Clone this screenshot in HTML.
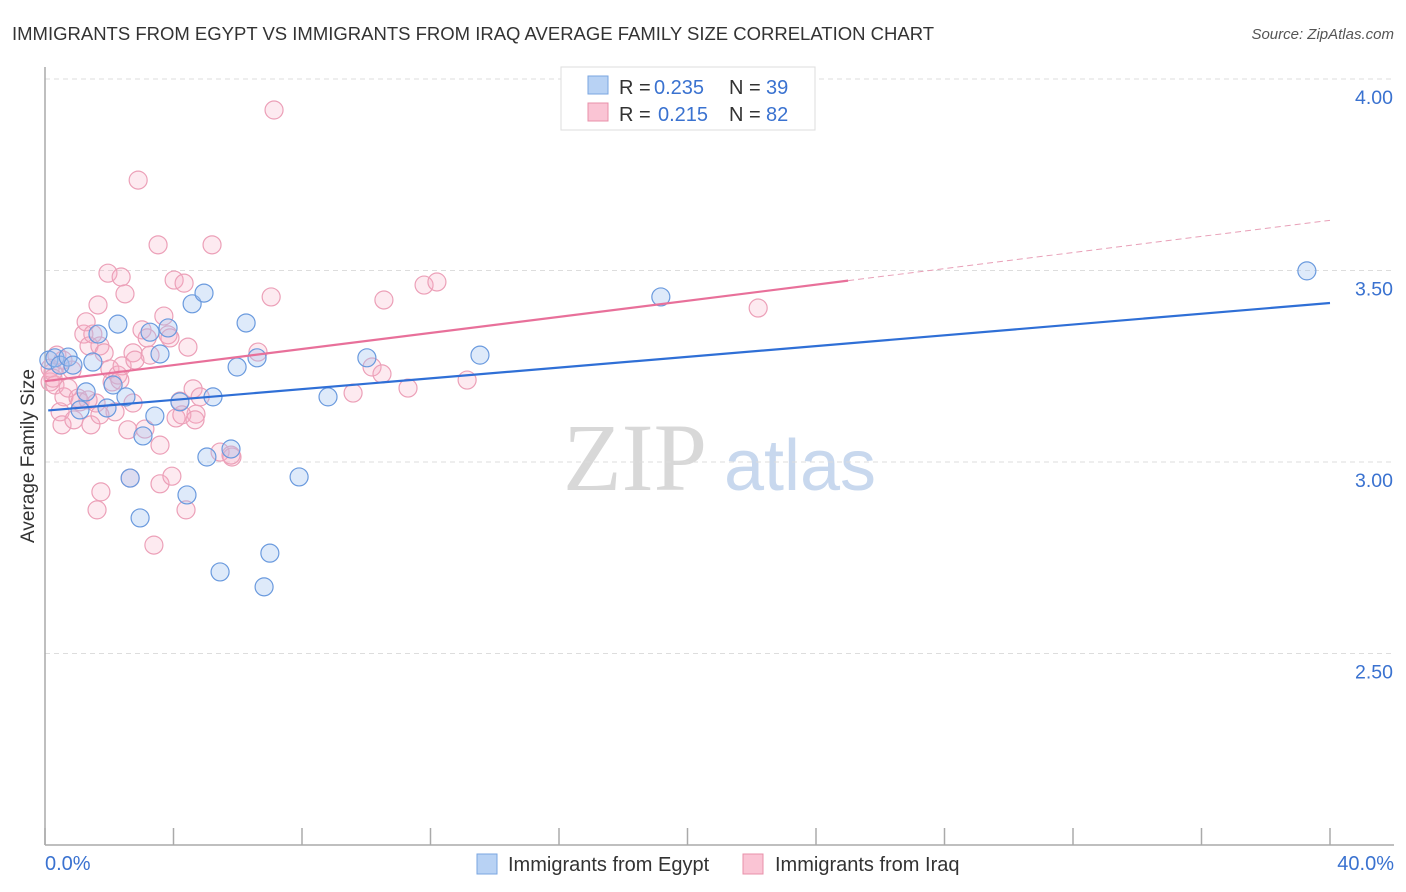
<!DOCTYPE html>
<html><head><meta charset="utf-8"><style>
body{margin:0;background:#fff;font-family:"Liberation Sans",sans-serif;}
svg{display:block}
</style></head><body>
<svg id="chart" width="1406" height="892" viewBox="0 0 1406 892" xmlns="http://www.w3.org/2000/svg">
<text x="12" y="40" font-size="18.5" fill="#333">IMMIGRANTS FROM EGYPT VS IMMIGRANTS FROM IRAQ AVERAGE FAMILY SIZE CORRELATION CHART</text>
<text x="1394" y="39" font-size="15" fill="#555" font-style="italic" text-anchor="end">Source: ZipAtlas.com</text>
<g>
<text x="635" y="490" font-size="96" fill="#d8d8d8" text-anchor="middle" font-family="Liberation Serif,serif">ZIP</text>
<text x="800" y="490" font-size="72" fill="#c8d8ee" text-anchor="middle">atlas</text>
</g>
<g id="grid"></g>
<g id="axes"></g>
<g id="pts"></g>
<g id="trends"></g>
<g>
<rect x="561" y="67" width="254" height="63" fill="#fff" stroke="#ddd"/>
<rect x="588" y="76" width="20" height="18" fill="#b8d2f4" stroke="#7aa6e0"/>
<g font-size="20">
<text x="619" y="94" fill="#333">R =</text><text x="654" y="94" fill="#3a72d0">0.235</text><text x="729" y="94" fill="#333">N =</text><text x="766" y="94" fill="#3a72d0">39</text>
</g>
<rect x="588" y="103" width="20" height="18" fill="#fac4d4" stroke="#e890aa"/>
<g font-size="20">
<text x="619" y="121" fill="#333">R =</text><text x="658" y="121" fill="#3a72d0">0.215</text><text x="729" y="121" fill="#333">N =</text><text x="766" y="121" fill="#3a72d0">82</text>
</g>
</g>
<text x="34" y="456" font-size="19" fill="#333" text-anchor="middle" transform="rotate(-90 34 456)">Average Family Size</text>
<text x="45" y="870" font-size="20" fill="#3a72d0">0.0%</text>
<text x="1394" y="870" font-size="20" fill="#3a72d0" text-anchor="end">40.0%</text>
<g>
<rect x="477" y="854" width="20" height="20" fill="#b8d2f4" stroke="#7aa6e0"/>
<text x="508" y="871" font-size="20" fill="#333">Immigrants from Egypt</text>
<rect x="743" y="854" width="20" height="20" fill="#fac4d4" stroke="#e890aa"/>
<text x="775" y="871" font-size="20" fill="#333">Immigrants from Iraq</text>
</g>
</svg>
<script>
const yTicks=[2.5,3.0,3.5,4.0];
const yTickLabels=["2.50","3.00","3.50","4.00"];
const xTicks=[0,4,8,12,16,20,24,28,32,36,40];
const egyptX=[0.12,0.31,0.47,0.72,0.87,1.09,1.28,1.49,1.65,1.93,2.12,2.27,2.52,2.65,2.96,3.05,3.27,3.42,3.58,3.83,4.20,4.42,4.58,4.95,5.04,5.23,5.45,5.79,5.98,6.26,6.60,6.82,7.00,7.91,8.81,10.02,13.54,19.17,39.28];
const egyptY=[3.266,3.272,3.253,3.274,3.253,3.136,3.183,3.261,3.334,3.141,3.201,3.360,3.170,2.958,2.854,3.068,3.339,3.120,3.282,3.350,3.157,2.914,3.413,3.441,3.013,3.170,2.713,3.034,3.248,3.363,3.272,2.674,2.762,2.961,3.170,3.272,3.279,3.431,3.499];
const iraqX=[0.16,0.25,0.31,0.37,0.47,0.53,0.59,0.72,0.84,0.90,1.03,1.09,1.21,1.28,1.37,1.43,1.49,1.59,1.65,1.71,1.84,1.96,2.02,2.09,2.18,2.27,2.37,2.40,2.49,2.58,2.65,2.74,2.74,2.90,3.02,3.11,3.18,3.27,3.39,3.52,3.58,3.58,3.70,3.83,3.95,4.02,4.08,4.20,4.33,4.39,4.45,4.61,4.70,4.83,5.20,5.45,5.82,6.63,7.04,7.13,9.59,10.18,10.49,10.55,11.30,11.80,12.20,13.14,22.20,1.62,1.74,0.16,0.25,0.56,1.34,1.71,2.33,2.80,3.89,4.26,4.67,5.79];
const iraqY=[3.209,3.235,3.201,3.279,3.131,3.097,3.170,3.193,3.240,3.110,3.167,3.157,3.334,3.366,3.303,3.097,3.334,3.154,3.410,3.303,3.285,3.493,3.243,3.209,3.131,3.227,3.483,3.251,3.439,3.084,2.958,3.285,3.154,3.736,3.345,3.086,3.324,3.279,2.783,3.567,3.044,2.943,3.381,3.332,2.963,3.475,3.115,3.159,3.467,2.875,3.300,3.191,3.125,3.170,3.567,3.026,3.013,3.287,3.431,3.919,3.180,3.248,3.230,3.423,3.193,3.462,3.470,3.214,3.402,2.875,2.922,3.245,3.219,3.266,3.162,3.123,3.214,3.266,3.324,3.123,3.110,3.018];
const egyptTrend=[3.134,0.00703];
const iraqTrend=[3.211,0.0105];
const NS="http://www.w3.org/2000/svg";
const sx=v=>45+v/40*1285;
const sy=v=>79+(4-v)*383;
function mk(tag,attrs,parent){const e=document.createElementNS(NS,tag);for(const k in attrs)e.setAttribute(k,attrs[k]);parent.appendChild(e);return e;}
const grid=document.getElementById('grid'),axes=document.getElementById('axes'),pts=document.getElementById('pts'),tr=document.getElementById('trends');
yTicks.forEach((t,i)=>{
 const l=mk('line',{x1:45,x2:1394,y1:sy(t),y2:sy(t),stroke:'#ddd','stroke-dasharray':'5,4'},grid);
 
 
 const tx=mk('text',{x:1393,y:sy(t)+25,'font-size':19.5,fill:'#3a72d0','text-anchor':'end'},axes);
 tx.textContent=yTickLabels[i];
 
 
});
const ya=mk('line',{x1:45,x2:45,y1:67,y2:845,stroke:'#aaa','stroke-width':1.5},axes);


const xa=mk('line',{x1:45,x2:1394,y1:845,y2:845,stroke:'#aaa','stroke-width':1.5},axes);


xTicks.forEach(t=>{
 const l=mk('line',{x1:sx(t),x2:sx(t),y1:828,y2:845,stroke:'#aaa','stroke-width':1.5},axes);
 
 
});
iraqX.forEach((x,i)=>{
 const c=mk('circle',{cx:sx(x),cy:sy(iraqY[i]),r:9,fill:'rgba(248,170,195,0.25)',stroke:'#eca0b8','stroke-width':1.2},pts);
 
 
});
egyptX.forEach((x,i)=>{
 const c=mk('circle',{cx:sx(x),cy:sy(egyptY[i]),r:9,fill:'rgba(160,196,240,0.35)',stroke:'#6a9ade','stroke-width':1.2},pts);
 
 
});
const bl=mk('line',{x1:sx(0.1),y1:sy(egyptTrend[0]+egyptTrend[1]*0.1),x2:sx(40),y2:sy(egyptTrend[0]+egyptTrend[1]*40),stroke:'#2f6fd6','stroke-width':2.2},tr);


const pl=mk('line',{x1:sx(0),y1:sy(iraqTrend[0]),x2:sx(25),y2:sy(iraqTrend[0]+iraqTrend[1]*25),stroke:'#e8709a','stroke-width':2.2},tr);


const pd=mk('line',{x1:sx(25),y1:sy(iraqTrend[0]+iraqTrend[1]*25),x2:sx(40),y2:sy(iraqTrend[0]+iraqTrend[1]*40),stroke:'#e8a0b8','stroke-width':1,'stroke-dasharray':'6,4'},tr);


</script>
</body></html>
